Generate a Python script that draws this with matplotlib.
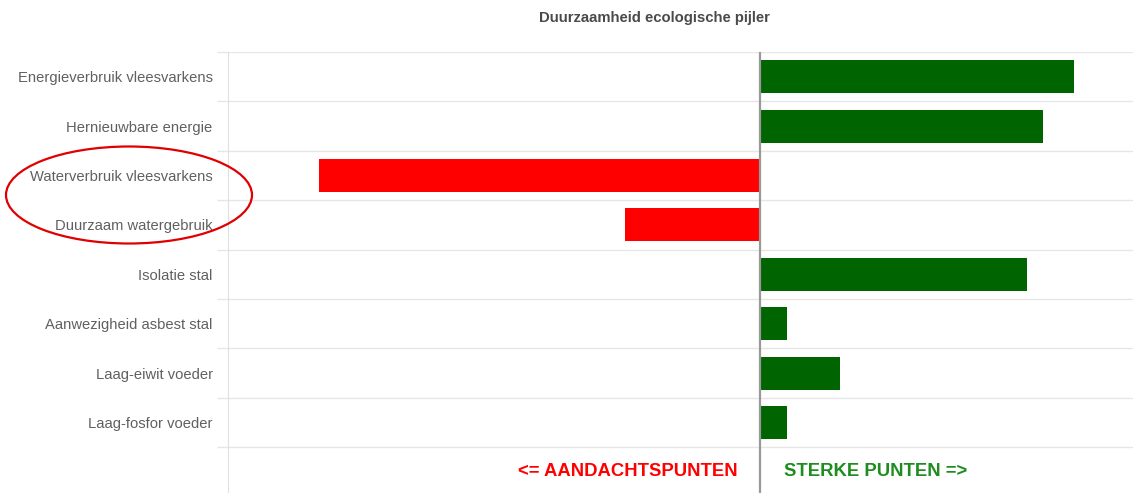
import numpy as np
import matplotlib.pyplot as plt
from matplotlib.patches import Ellipse

plt.rcParams['font.family'] = ['Liberation Sans', 'DejaVu Sans']

# data
categories = [
    "Energieverbruik vleesvarkens",
    "Hernieuwbare energie",
    "Waterverbruik vleesvarkens",
    "Duurzaam watergebruik",
    "Isolatie stal",
    "Aanwezigheid asbest stal",
    "Laag-eiwit voeder",
    "Laag-fosfor voeder",
    "",
]
scores = [5.9, 5.3, -8.3, -2.55, 5.0, 0.5, 1.5, 0.5, 0.0]

title = "Duurzaamheid ecologische pijler"
left_note = "<= AANDACHTSPUNTEN"
right_note = "STERKE PUNTEN =>"

W, H = 1136, 493
fig = plt.figure(figsize=(W / 100, H / 100), dpi=100)
fig.patch.set_facecolor("white")

n = len(categories)
row_h = 49.4
top_px = 52
left_px, right_px = 228, 1133
ax = fig.add_axes([left_px / W, 1 - (top_px + n * row_h) / H,
                   (right_px - left_px) / W, n * row_h / H])

y = np.arange(n)
colors = ["#006400" if s > 0 else "#ff0000" for s in scores]
ax.barh(y, scores, height=0.67, color=colors, edgecolor="none", zorder=2)

ax.set_xlim(-10, 7)
ax.set_ylim(n - 0.5, -0.5)

# category labels
ax.set_yticks(y)
ax.set_yticklabels(categories, fontsize=10.6, color="#606060")
ax.tick_params(axis="y", which="major", length=0, pad=11)

# row separators
ax.set_yticks(np.arange(n + 1) - 0.5, minor=True)
ax.tick_params(axis="y", which="minor", length=8, color="#e6e6e6", width=1)
ax.grid(axis="y", which="minor", color="#e6e6e6", linewidth=1, zorder=0)
ax.grid(axis="y", which="major", visible=False)

ax.set_xticks([])
for side in ["top", "right", "bottom"]:
    ax.spines[side].set_visible(False)
ax.spines["left"].set_color("#e0e0e0")
ax.axvline(0, color="#999999", linewidth=1.6, zorder=3)

# bottom notes
ax.text(-0.43, n - 1, left_note, color="#ff0000", fontsize=13.3,
        fontweight="bold", ha="right", va="center")
ax.text(0.45, n - 1, right_note, color="#1e8c1e", fontsize=13.3,
        fontweight="bold", ha="left", va="center")

fig.text(654 / W, 1 - 18 / H, title, fontsize=10.7, fontweight="bold",
         color="#4a4a4a", ha="center", va="center")

# hand-drawn highlight around the water items
ell = Ellipse((129 / W, 1 - 195 / H), 246 / W, 97 / H,
              transform=fig.transFigure, fill=False, edgecolor="#e00000",
              linewidth=1.6)
fig.add_artist(ell)

fig.savefig("out.png", dpi=100, facecolor="white")
